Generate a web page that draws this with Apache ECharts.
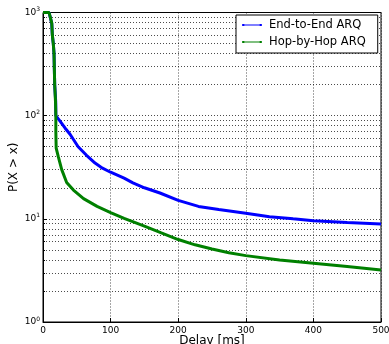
<!DOCTYPE html>
<html>
<head>
<meta charset="utf-8">
<script src="https://cdn.jsdelivr.net/npm/echarts@6/dist/echarts.min.js"></script>
<style>html,body{margin:0;padding:0;background:#fff}#c{width:389px;height:344px}</style>
</head>
<body>
<div id="c"></div>
<script>
const seriesNames = ['End-to-End ARQ', 'Hop-by-Hop ARQ'];
const xTicks = [0, 100, 200, 300, 400, 500];
const yTickExps = [0, 1, 2, 3];

const e2eDelay = [0, 9, 12.9, 13.8, 15.2, 16.3, 16.7, 17.3, 18.8, 19, 20.3, 26, 32.5, 40, 52, 64, 77, 88, 100, 120, 133, 150, 173, 200, 230, 260, 300, 335, 370, 400, 450, 500];
const e2eProb  = [1000, 1000, 786, 605, 504, 403, 303, 199, 137, 100, 98, 87, 76, 66, 50, 41.5, 34.7, 31, 28.3, 24.8, 22.3, 20, 17.8, 15.1, 13.2, 12.3, 11.3, 10.5, 10, 9.6, 9.2, 8.9];

const hbhDelay = [0, 9, 13, 13.8, 15.2, 16.3, 16.7, 17.3, 18.5, 19, 19, 19.5, 22.6, 27.7, 35, 45, 60, 80, 100, 120, 150, 175, 200, 225, 250, 275, 300, 350, 400, 450, 500];
const hbhProb  = [1000, 1000, 790, 605, 500, 400, 300, 200, 137, 100, 70, 48.5, 40, 30, 22.5, 19, 15.7, 13.2, 11.5, 10.1, 8.5, 7.3, 6.3, 5.6, 5.1, 4.7, 4.4, 4.0, 3.72, 3.45, 3.2];

const zip = (a, b) => a.map((v, i) => [v, b[i]]);
const iconPath = 'path://M0,3.4H30V4.6H0Z M0.5,2.5H3.5V5.5H0.5Z M26.5,2.5H29.5V5.5H26.5Z';

const chart = echarts.init(document.getElementById('c'), null, {renderer: 'canvas'});
const font = 'DejaVu Sans';
chart.setOption({
  animation: false,
  backgroundColor: '#fff',
  textStyle: {fontFamily: font},
  grid: {left: 43, right: 8, top: 12.5, bottom: 22, containLabel: false, outerBoundsMode: 'none',
         show: true, borderColor: '#000', borderWidth: 1, backgroundColor: 'transparent'},
  legend: {
    orient: 'vertical', left: 236, top: 15,
    backgroundColor: '#fff', borderColor: '#000', borderWidth: 1, borderRadius: 0,
    padding: [4, 12, 5, 6], itemGap: 5, itemWidth: 20, itemHeight: 6,
    textStyle: {fontFamily: font, fontSize: 11.5, color: '#000', padding: [0, 0, 0, 2]},
    data: seriesNames.map((n, i) => ({name: n, icon: iconPath, itemStyle: {color: i ? '#008000' : '#0000ff'}}))
  },
  xAxis: {
    type: 'value', min: xTicks[0], max: xTicks[xTicks.length - 1], interval: 100,
    name: 'Delay [ms]', nameLocation: 'middle', nameGap: 13, nameMoveOverlap: false,
    nameTextStyle: {fontFamily: font, fontSize: 12, color: '#000'},
    axisLine: {show: true, onZero: false, lineStyle: {color: '#000', width: 1}},
    axisTick: {show: true, inside: true, length: 4, lineStyle: {color: '#000'}},
    axisLabel: {fontFamily: font, fontSize: 9, color: '#000', margin: 4},
    splitLine: {show: true, lineStyle: {color: '#000', type: [1, 2], width: 1, opacity: 0.7}}
  },
  yAxis: {
    type: 'log', logBase: 10, min: 1, max: 1000,
    name: 'P(X > x)', nameLocation: 'middle', nameGap: 23, nameMoveOverlap: false,
    nameTextStyle: {fontFamily: font, fontSize: 12, color: '#000'},
    axisLine: {show: true, lineStyle: {color: '#000', width: 1}},
    axisTick: {show: true, inside: true, length: 4, lineStyle: {color: '#000'}},
    minorTick: {show: true, splitNumber: 9, length: 2, lineStyle: {color: '#000'}},
    minorSplitLine: {show: true, lineStyle: {color: '#000', type: [1, 2], width: 1, opacity: 0.7}},
    splitLine: {show: true, lineStyle: {color: '#000', type: [1, 2], width: 1, opacity: 0.7}},
    axisLabel: {
      margin: 3,
      formatter: v => '10{s|' + Math.round(Math.log10(v)) + '}',
      rich: {s: {fontSize: 6, verticalAlign: 'top', padding: [0, 0, 6, 0], color: '#000', fontFamily: font}},
      fontFamily: font, fontSize: 9, color: '#000'
    }
  },
  series: [
    {name: seriesNames[0], type: 'line', data: zip(e2eDelay, e2eProb), showSymbol: false, symbol: 'none',
     lineStyle: {color: '#0000ff', width: 3}, itemStyle: {color: '#0000ff'}},
    {name: seriesNames[1], type: 'line', data: zip(hbhDelay, hbhProb), showSymbol: false, symbol: 'none',
     lineStyle: {color: '#008000', width: 3}, itemStyle: {color: '#008000'}}
  ]
});
</script>
</body>
</html>
